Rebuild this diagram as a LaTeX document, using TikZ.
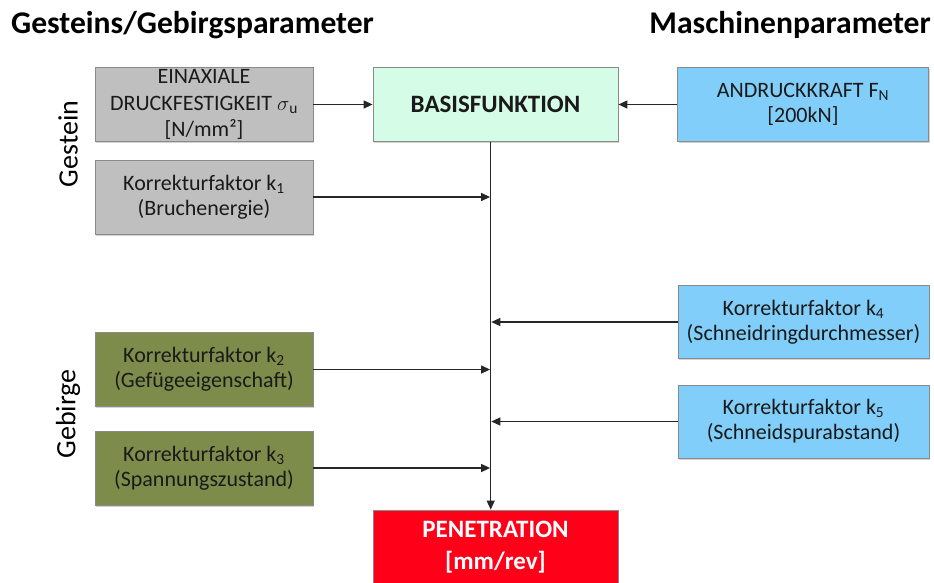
\documentclass[tikz,border=0pt]{standalone}
\usepackage{fontspec}
\setmainfont{Carlito}
\usetikzlibrary{arrows.meta,shadows}
\definecolor{greyfill}{HTML}{BFBFBF}
\definecolor{greenfill}{HTML}{7D8C4B}
\definecolor{bluefill}{HTML}{80CEF9}
\definecolor{mintfill}{HTML}{D4FCE6}
\definecolor{redfill}{HTML}{FF0019}
\definecolor{edgegrey}{HTML}{8A8A8A}
\definecolor{txt}{HTML}{1A1A1A}
\tikzset{
  box/.style={draw=edgegrey, line width=0.8pt, inner sep=0pt, align=center,
    text=txt, font=\fontsize{22}{25}\selectfont,
    drop shadow={shadow xshift=1.2pt, shadow yshift=-1.5pt, opacity=0.35}},
  greybox/.style={box, fill=greyfill},
  greenbox/.style={box, fill=greenfill},
  bluebox/.style={box, fill=bluefill},
  basisbox/.style={box, fill=mintfill, font=\fontsize{25}{29}\selectfont\bfseries},
  penbox/.style={box, fill=redfill, text=white, font=\fontsize{25}{32}\selectfont\bfseries},
  title/.style={font=\fontsize{31.6}{35}\selectfont\bfseries, text=black, inner sep=0pt},
  sidelabel/.style={font=\fontsize{28}{31}\selectfont, text=black, rotate=90, inner sep=0pt},
  arr/.style={line width=1.25pt, draw=black!85, -{Triangle[length=9pt,width=8pt]}},
}
\begin{document}
\begin{tikzpicture}[x=1pt,y=-1pt]
\useasboundingbox (0,0) rectangle (934,582);
\clip (0,0) rectangle (934,582);
% titles
\node[title, anchor=west] (t1) at (11,25) {Gesteins/Gebirgsparameter};
\node[title, anchor=east] (t2) at (931,25) {Maschinenparameter};
% side labels
\node[sidelabel] (lg) at (68,144) {Gestein};
\node[sidelabel] (lb) at (68,414) {Gebirge};
% left boxes
\node[greybox, minimum width=218pt, minimum height=74pt, font=\fontsize{22}{26.5}\selectfont] (ucs) at (204,104.5)
  {EINAXIALE\\DRUCKFESTIGKEIT $\sigma$\textsubscript{u}\\{}[N/mm²]};
\node[greybox, minimum width=218pt, minimum height=74pt] (k1) at (204,197)
  {Korrekturfaktor k\textsubscript{1}\\(Bruchenergie)};
\node[greenbox, minimum width=218pt, minimum height=74pt] (k2) at (204,369.5)
  {Korrekturfaktor k\textsubscript{2}\\(Gefügeeigenschaft)};
\node[greenbox, minimum width=218pt, minimum height=74pt] (k3) at (204,468)
  {Korrekturfaktor k\textsubscript{3}\\(Spannungszustand)};
% center boxes
\node[basisbox, minimum width=245pt, minimum height=74pt] (basis) at (495.5,104.5) {BASISFUNKTION};
\node[penbox, minimum width=245pt, minimum height=74pt] (pen) at (495.5,547)
  {PENETRATION\\{}[mm/rev]};
% right boxes
\node[bluebox, minimum width=251pt, minimum height=74pt] (fn) at (803,104.5)
  {ANDRUCKKRAFT F\textsubscript{N}\\{}[200kN]};
\node[bluebox, minimum width=251pt, minimum height=73pt] (k4) at (803.5,322)
  {Korrekturfaktor k\textsubscript{4}\\(Schneidringdurchmesser)};
\node[bluebox, minimum width=251pt, minimum height=73pt] (k5) at (803.5,421.5)
  {Korrekturfaktor k\textsubscript{5}\\(Schneidspurabstand)};
% main line
\coordinate (vx) at (490.7,0);
\draw[arr] (basis.south -| vx) -- (pen.north -| vx);
% connectors
\draw[arr] (ucs) -- (basis);
\draw[arr] (fn) -- (basis);
\draw[arr] (k1.east) -- ([xshift=-0.6pt]k1.east -| vx);
\draw[arr] (k2.east) -- ([xshift=-0.6pt]k2.east -| vx);
\draw[arr] (k3.east) -- ([xshift=-0.6pt]k3.east -| vx);
\draw[arr] (k4.west) -- ([xshift=0.6pt]k4.west -| vx);
\draw[arr] (k5.west) -- ([xshift=0.6pt]k5.west -| vx);
\end{tikzpicture}
\end{document}
